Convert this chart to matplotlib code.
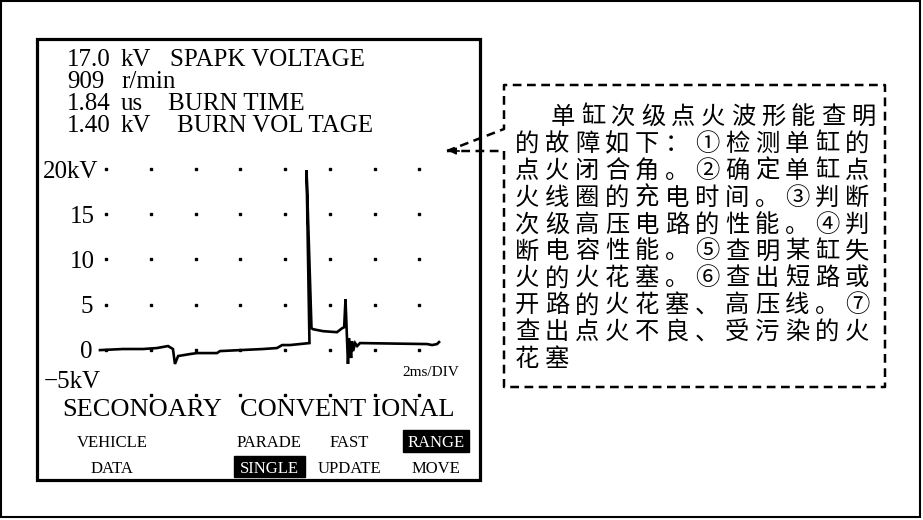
import matplotlib
matplotlib.use("Agg")
import matplotlib.pyplot as plt
from matplotlib.patches import Rectangle

plt.rcParams['font.family'] = ['Liberation Serif', 'DejaVu Serif']

t_ms = [-0.27, 0.76, 1.65, 2.28, 2.77, 2.99, 3.08, 3.22, 3.75, 4.07, 4.96, 5.09,
        5.99, 7.02, 7.64, 7.87, 8.22, 9.09, 8.96, 9.18, 9.25, 9.70, 10.32, 10.55,
        10.64, 10.70, 10.81, 10.86, 10.95, 10.99, 11.04, 11.13, 11.22, 11.35,
        14.35, 14.57, 14.79, 14.88]
kv = [-0.06, 0.06, 0.06, 0.17, 0.39, 0.06, -1.6, -0.72, -0.5, -0.39, -0.39, -0.17,
      -0.06, 0.06, 0.17, 0.5, 0.5, 0.72, 19.9, 2.37, 2.26, 2.04, 1.93, 2.37,
      2.48, 5.57, -1.6, 1.27, -0.94, 0.94, -0.17, 0.72, 0.39, 0.72,
      0.61, 0.5, 0.61, 0.83]

grid_t = [0, 2, 4, 6, 8, 10, 12, 14]
grid_v = [-5, 0, 5, 10, 15, 20]
v_labels = ["−5kV", "0", "5", "10", "15", "20kV"]

readout_vals = ["17.0", "909", "1.84", "1.40"]
readout_units = ["kV", "r/min", "us", "kV"]
readout_names = ["SPAPK VOLTAGE", "", "BURN TIME", "BURN VOL TAGE"]

menu_top = ["VEHICLE", "PARADE", "FAST", "RANGE"]
menu_bot = ["DATA", "SINGLE", "UPDATE", "MOVE"]
menu_x = [112, 269, 349, 436]
menu_hl_top = [False, False, False, True]
menu_hl_bot = [False, True, False, False]

note_lines = ["单缸次级点火波形能查明",
              "的故障如下：①检测单缸的",
              "点火闭合角。②确定单缸点",
              "火线圈的充电时间。③判断",
              "次级高压电路的性能。④判",
              "断电容性能。⑤查明某缸失",
              "火的火花塞。⑥查出短路或",
              "开路的火花塞、高压线。⑦",
              "查出点火不良、受污染的火",
              "花塞"]

fig = plt.figure(figsize=(9.23, 5.2), dpi=100)
fig.patch.set_facecolor("white")

# overlay in pixel coordinates for frames and text
bg = fig.add_axes([0, 0, 1, 1])
bg.set_xlim(0, 923)
bg.set_ylim(520, 0)
bg.axis("off")

bg.add_patch(Rectangle((1, 1), 919, 516, fill=False, lw=1.5, ec="black"))
bg.add_patch(Rectangle((37, 39), 443, 441, fill=False, lw=2.3, ec="black"))

# readout lines
name_x = [170, 0, 168, 177]
for i in range(4):
    y = 66 + i * 22
    bg.text(67, y, readout_vals[i], fontsize=18, va="baseline")
    bg.text(121, y, readout_units[i], fontsize=18, va="baseline")
    if readout_names[i]:
        bg.text(name_x[i], y, readout_names[i], fontsize=18, va="baseline")

bg.text(62, 416, "SECONOARY", fontsize=19, va="baseline")
bg.text(240, 416, "CONVENT IONAL", fontsize=19, va="baseline")

for x, s, hl in zip(menu_x, menu_top, menu_hl_top):
    if hl:
        bg.add_patch(Rectangle((x - 33, 430), 66, 22, color="black"))
    bg.text(x, 447, s, fontsize=12, ha="center", va="baseline",
            color="white" if hl else "black")
for x, s, hl in zip(menu_x, menu_bot, menu_hl_bot):
    if hl:
        bg.add_patch(Rectangle((x - 35, 456), 71, 21, color="black"))
    bg.text(x, 473, s, fontsize=12, ha="center", va="baseline",
            color="white" if hl else "black")

# dashed callout
cx = [447, 504, 504, 885, 885, 504, 504, 447]
cy = [151, 151, 387, 387, 85, 85, 129, 151]
bg.plot(cx, cy, color="black", lw=1.8, linestyle=(0, (3.5, 2.2)))
bg.annotate("", xy=(446, 151), xytext=(462, 151),
            arrowprops=dict(arrowstyle="-|>", color="black", lw=1.2, mutation_scale=10))

pitch = 30.0
for j, line in enumerate(note_lines):
    y = 117 + j * 26.9
    x0 = 563 if j == 0 else 527
    for k, ch in enumerate(line):
        bg.text(x0 + k * pitch, y, ch, fontsize=17.5, ha="center", va="center",
                family=["Noto Sans CJK SC", "DejaVu Sans"])

# scope plot
ax = fig.add_axes([40 / 923, 120 / 520, 438 / 923, 245 / 520])
ax.set_facecolor("none")
ax.set_xlim(-2.95, 16.62)
ax.set_ylim(-5.6, 21.6)
ax.axis("off")

gx, gy = [], []
for v in grid_v:
    for t in grid_t:
        if not (t == 0 and v == -5):
            gx.append(t)
            gy.append(v)
ax.plot(gx, gy, ls="none", marker="s", ms=1.8, color="black")

ax.plot(t_ms, kv, color="black", lw=1.9, solid_joinstyle="miter")

label_x = [-2.8, -0.6, -0.6, -0.5, -0.5, -0.36]
for v, s, x in zip(grid_v, v_labels, label_x):
    if v == -5:
        ax.text(x, -4.3, s, fontsize=18, ha="left", va="baseline")
    else:
        ax.text(x, v, s, fontsize=18, ha="right", va="center_baseline")

ax.text(13.23, -2.6, "2ms/DIV", fontsize=11, ha="left", va="center")

fig.savefig("out.png", dpi=100)
